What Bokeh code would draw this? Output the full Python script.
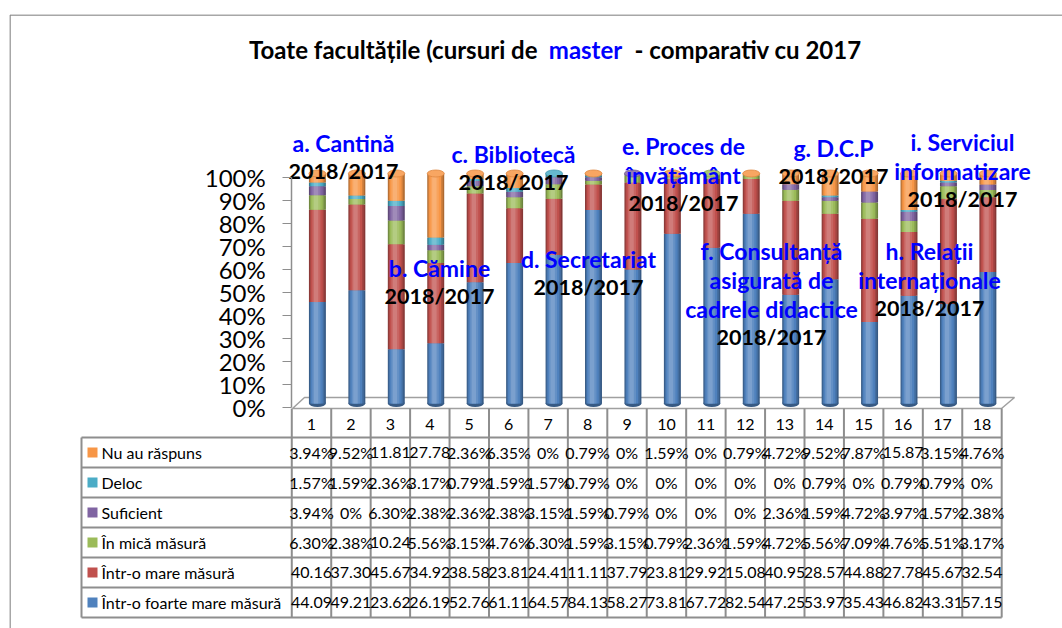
import numpy as np
from bokeh.plotting import figure
from bokeh.models import Range1d, LinearAxis, FixedTicker, PrintfTickFormatter, ColumnDataSource
from bokeh.core.properties import value
from bokeh.embed import file_html
from bokeh.resources import INLINE

# ---------------- data ----------------
categories = list(range(1, 19))
foarte_mare = [44.09, 49.21, 23.62, 26.19, 52.76, 61.11, 64.57, 84.13, 58.27,
               73.81, 67.72, 82.54, 47.25, 53.97, 35.43, 46.82, 43.31, 57.15]
mare = [40.16, 37.30, 45.67, 34.92, 38.58, 23.81, 24.41, 11.11, 37.79,
        23.81, 29.92, 15.08, 40.95, 28.57, 44.88, 27.78, 45.67, 32.54]
mica = [6.30, 2.38, 10.24, 5.56, 3.15, 4.76, 6.30, 1.59, 3.15,
        0.79, 2.36, 1.59, 4.72, 5.56, 7.09, 4.76, 5.51, 3.17]
suficient = [3.94, 0, 6.30, 2.38, 2.36, 2.38, 3.15, 1.59, 0.79,
             0, 0, 0, 2.36, 1.59, 4.72, 3.97, 1.57, 2.38]
deloc = [1.57, 1.59, 2.36, 3.17, 0.79, 1.59, 1.57, 0.79, 0,
         0, 0, 0, 0, 0.79, 0, 0.79, 0.79, 0]
nu_raspuns = [3.94, 9.52, 11.81, 27.78, 2.36, 6.35, 0, 0.79, 0,
              1.59, 0, 0.79, 4.72, 9.52, 7.87, 15.87, 3.15, 4.76]

series_names = ["Într-o foarte mare măsură", "Într-o mare măsură", "În mică măsură",
                "Suficient", "Deloc", "Nu au răspuns"]
series_values = [foarte_mare, mare, mica, suficient, deloc, nu_raspuns]
series_colors = ["#4F81BD", "#C0504D", "#9BBB59", "#8064A2", "#4BACC6", "#F79646"]
y_ticks = [0, 10, 20, 30, 40, 50, 60, 70, 80, 90, 100]

title_left = "Toate facultățile (cursuri de"
title_mid = "master"
title_right = "-  comparativ cu 2017"
group_labels = [
    ["a. Cantină"], ["b. Cămine"], ["c. Bibliotecă"], ["d. Secretariat"],
    ["e. Proces de", "învățământ"], ["f. Consultanță", "asigurată de", "cadrele didactice"],
    ["g. D.C.P"], ["h. Relații", "internaționale"], ["i. Serviciul", "informatizare"],
]
period_label = "2018/2017"

# ---------------- layout (page pixels) ----------------
FW, FH = 1062, 628
LEFT, TOP, RIGHT, BOTTOM = 9, 14, 1062, 628
COL0, COLW = 311.0, 39.44          # page x of column 1 centre, column width
Y0, PPU = 407.0, 2.3               # page y of 0 %, pixels per percent
DEPTH_X, DEPTH_Y = 0.15, 4.0       # 3-D offset of the cylinders
BW = 0.43                          # cylinder width (category units)

def cx(px):
    return 1 + (px - COL0) / COLW

p = figure(width=FW, height=FH, output_backend="svg", toolbar_location=None,
           x_range=Range1d(cx(LEFT), cx(RIGHT)),
           y_range=Range1d((Y0 - BOTTOM) / PPU, (Y0 - TOP) / PPU),
           x_axis_location=None, y_axis_location=None,
           min_border_left=LEFT, min_border_right=0, min_border_top=TOP, min_border_bottom=0,
           outline_line_color=None, background_fill_color="white", border_fill_color="white")
p.extra_x_ranges = {"px": Range1d(LEFT, RIGHT)}
p.extra_y_ranges = {"px": Range1d(BOTTOM, TOP),
                    "depth": Range1d((Y0 - DEPTH_Y - BOTTOM) / PPU, (Y0 - DEPTH_Y - TOP) / PPU)}
p.xgrid.grid_line_color = None
p.ygrid.grid_line_color = None

FONT = value("Lato")
GRAY = "#8E8E8E"

# outer border (left + top)
p.segment(x0=[LEFT + 0.5, LEFT + 0.5], y0=[TOP + 0.5, TOP + 0.5], x1=[LEFT + 0.5, RIGHT],
          y1=[BOTTOM, TOP + 0.5], line_color="#8A8A8A", line_width=1.5,
          x_range_name="px", y_range_name="px")

# title
TS = "24px"
p.text(x=[537], y=[49], text=[title_left], text_font=FONT, text_font_style="bold",
       text_font_size=TS, text_align="right", text_baseline="middle", text_color="black",
       x_range_name="px", y_range_name="px")
p.text(x=[585], y=[49], text=[title_mid], text_font=FONT, text_font_style="bold",
       text_font_size=TS, text_align="center", text_baseline="middle", text_color="#0000FF",
       x_range_name="px", y_range_name="px")
p.text(x=[634], y=[49], text=[title_right], text_font=FONT, text_font_style="bold",
       text_font_size=TS, text_align="left", text_baseline="middle", text_color="black",
       x_range_name="px", y_range_name="px")

# 3-D floor
p.patch(x=[292, 304, 1014, 1001], y=[408, 397, 397, 408], fill_color="white",
        line_color="#A0A0A0", line_width=1.5, x_range_name="px", y_range_name="px")

# y axis
yaxis = LinearAxis(fixed_location=0.5, bounds=(0, 100), ticker=FixedTicker(ticks=y_ticks),
                   formatter=PrintfTickFormatter(format="%d%%"))
yaxis.major_tick_in = 0
yaxis.major_tick_out = 9
yaxis.minor_tick_in = 0
yaxis.minor_tick_out = 0
yaxis.axis_line_color = GRAY
yaxis.axis_line_width = 1.5
yaxis.major_tick_line_color = GRAY
yaxis.major_label_standoff = 17
yaxis.major_label_text_font = "Lato"
yaxis.major_label_text_font_size = "24px"
yaxis.major_label_text_color = "black"
p.add_layout(yaxis, "left")

# ---------------- cylinders ----------------
def mix(c, t, a):
    c = c.lstrip("#"); t = t.lstrip("#")
    r = [int(c[i:i + 2], 16) for i in (0, 2, 4)]
    s = [int(t[i:i + 2], 16) for i in (0, 2, 4)]
    return "#%02x%02x%02x" % tuple(int(round(r[i] + (s[i] - r[i]) * a)) for i in range(3))

xs = np.array(categories, dtype=float)
stackers = ["s%d" % i for i in range(6)]
data = {name: vals for name, vals in zip(stackers, series_values)}
layers = [(1.00, 0.00, "#000000", 0.30), (0.86, -0.02, "#000000", 0.15),
          (0.70, -0.04, "#000000", 0.0), (0.48, -0.06, "#FFFFFF", 0.12),
          (0.26, -0.08, "#FFFFFF", 0.25)]
for i, (wf, off, tint, amt) in enumerate(layers):
    data["x%d" % i] = xs + DEPTH_X + off * BW
src = ColumnDataSource(data)

# bottom cap
p.ellipse(x=xs + DEPTH_X, y=np.zeros(len(xs)), width=BW, height=7, height_units="screen",
          fill_color=mix(series_colors[0], "#000000", 0.3), line_color=None, y_range_name="depth")
for i, (wf, off, tint, amt) in enumerate(layers):
    cols = [mix(c, tint, amt) for c in series_colors]
    p.vbar_stack(stackers, x="x%d" % i, width=BW * wf, color=cols, line_width=0,
                 source=src, y_range_name="depth")

# top cap coloured like the top non-zero segment
vals = np.array(series_values)
top_idx = [max(j for j in range(6) if vals[j, k] > 0) for k in range(len(xs))]
tops = vals.sum(axis=0)
p.ellipse(x=xs + DEPTH_X, y=tops, width=BW, height=7, height_units="screen",
          fill_color=[mix(series_colors[j], "#FFFFFF", 0.15) for j in top_idx],
          line_color=[mix(series_colors[j], "#000000", 0.1) for j in top_idx], line_width=0.8,
          y_range_name="depth")

# ---------------- group labels ----------------
label_pos = [(343, 142), (439, 267), (513, 153), (588, 258), (683, 145),
             (771, 250), (833, 147), (929, 250), (962, 141)]
LINE_H = 29
bx, by, bt, kx, ky = [], [], [], [], []
for lines, (x0, y0) in zip(group_labels, label_pos):
    for j, t in enumerate(lines):
        bx.append(x0); by.append(y0 + j * LINE_H); bt.append(t)
    kx.append(x0); ky.append(y0 + len(lines) * LINE_H - 1)
p.text(x=bx, y=by, text=bt, text_font=FONT, text_font_style="bold", text_font_size="23px",
       text_align="center", text_baseline="middle", text_color="#0000FF",
       x_range_name="px", y_range_name="px")
p.text(x=kx, y=ky, text=[period_label] * len(kx), text_font=FONT, text_font_style="bold",
       text_font_size="21.5px", text_align="center", text_baseline="middle", text_color="black",
       x_range_name="px", y_range_name="px")

# ---------------- data table ----------------
T_HEAD_TOP, T_TOP, ROW_H = 408, 437, 30
T_LEFT = 81
n = len(categories)
row_order = [5, 4, 3, 2, 1, 0]
row_tops = [T_TOP + i * ROW_H for i in range(len(row_order) + 1)]
t_bottom = row_tops[-1]
right_px = COL0 + COLW * (n - 0.5)

# horizontal lines
p.segment(x0=[T_LEFT] * len(row_tops), x1=[right_px] * len(row_tops), y0=row_tops, y1=row_tops,
          line_color=GRAY, line_width=2, x_range_name="px", y_range_name="px")
# left border of the legend column
p.segment(x0=[T_LEFT], x1=[T_LEFT], y0=[T_TOP], y1=[t_bottom], line_color=GRAY, line_width=2,
          x_range_name="px", y_range_name="px")
# column dividers
bounds = np.arange(0.5, n + 1, 1.0)
p.segment(x0=bounds, x1=bounds, y0=[T_HEAD_TOP] * len(bounds), y1=[t_bottom] * len(bounds),
          line_color=GRAY, line_width=2, y_range_name="px")

# header numbers
p.text(x=xs, y=[(T_HEAD_TOP + T_TOP) / 2 + 1] * n, text=[str(c) for c in categories],
       text_font=FONT, text_font_size="16px", text_align="center", text_baseline="middle",
       text_color="black", y_range_name="px")

def fmt(v):
    if v == 0:
        return "0%"
    if v < 10:
        return "%.2f%%" % v
    return "%.2f" % v

tx, ty, tt = [], [], []
lx, ly, lt, lc = [], [], [], []
for r, si in enumerate(row_order):
    yc = row_tops[r] + ROW_H / 2
    for k, v in zip(categories, series_values[si]):
        tx.append(k); ty.append(yc); tt.append(fmt(v))
    ly.append(yc); lt.append(series_names[si]); lc.append(series_colors[si])
p.text(x=tx, y=ty, text=tt, text_font=FONT, text_font_size="16px", text_align="center",
       text_baseline="middle", text_color="black", y_range_name="px")
p.rect(x=[92] * len(ly), y=ly, width=10, height=10, fill_color=lc, line_color=None,
       x_range_name="px", y_range_name="px")
p.text(x=[101] * len(ly), y=ly, text=lt, text_font=FONT, text_font_size="16px",
       text_align="left", text_baseline="middle", text_color="black",
       x_range_name="px", y_range_name="px")

open("out.html", "w").write(file_html(p, INLINE))
